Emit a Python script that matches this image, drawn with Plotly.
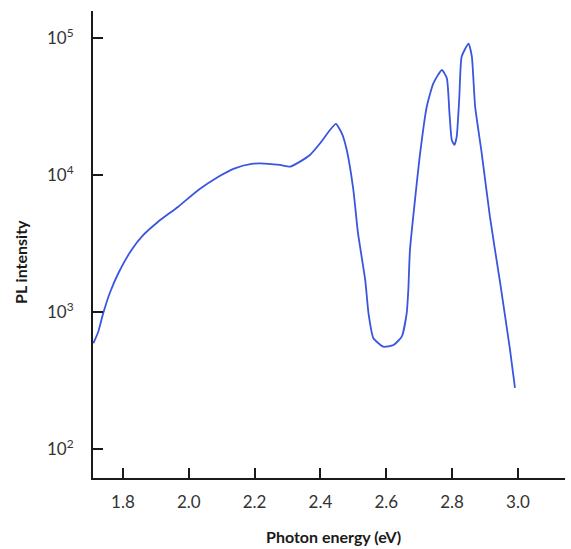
import plotly.graph_objects as go

# Photon energy (eV) and PL intensity
energy = [1.710, 1.725, 1.740, 1.760, 1.786, 1.826, 1.862, 1.907, 1.968, 2.029,
          2.090, 2.140, 2.191, 2.216, 2.277, 2.308, 2.338, 2.368, 2.399, 2.429,
          2.447, 2.465, 2.480, 2.500, 2.514, 2.536, 2.546, 2.561, 2.591, 2.622,
          2.647, 2.662, 2.667, 2.672, 2.703, 2.723, 2.743, 2.769, 2.784, 2.792,
          2.799, 2.807, 2.814, 2.822, 2.829, 2.850, 2.860, 2.870, 2.890, 2.915,
          2.946, 2.976, 2.991]
intensity = [591, 718, 978, 1376, 1917, 2836, 3648, 4561, 5870, 7773,
             9719, 11190, 12030, 12170, 11830, 11500, 12510, 13990, 17040, 21300,
             23570, 20160, 15220, 7773, 3773, 1712, 978, 643, 558, 574,
             660, 978, 1447, 2836, 14480, 31510, 46700, 58410, 50790, 28210,
             18010, 16560, 19040, 37270, 73030, 91000, 73030, 31510, 14400, 4936,
             1628, 528, 279]

x_ticks = [1.8, 2.0, 2.2, 2.4, 2.6, 2.8, 3.0]
x_ticktext = ["1.8", "2.0", "2.2", "2.4", "2.6", "2.8", "3.0"]
y_ticks = [100, 1000, 10000, 100000]
y_ticktext = ["10<sup>2</sup>", "10<sup>3</sup>", "10<sup>4</sup>", "10<sup>5</sup>"]

fig = go.Figure()
fig.add_trace(go.Scatter(x=energy, y=intensity, mode="lines",
                         line=dict(color="#3a55e0", width=1.8, shape="spline", smoothing=0.5),
                         showlegend=False))

axis_common = dict(showline=True, linecolor="#1a1a1a", linewidth=2,
                   ticks="inside", ticklen=10, tickwidth=2, tickcolor="#1a1a1a",
                   showgrid=False, zeroline=False, mirror=False, automargin=False,
                   tickfont=dict(family="Lato", size=17, color="#333333"))

fig.update_layout(
    width=571, height=549,
    margin=dict(l=93, r=6, t=11, b=71),
    paper_bgcolor="white", plot_bgcolor="white",
    xaxis=dict(range=[1.709, 3.143], tickvals=x_ticks, ticktext=x_ticktext,
               ticklabelstandoff=8, **axis_common),
    yaxis=dict(type="log", range=[1.788, 5.197], tickvals=y_ticks, ticktext=y_ticktext,
               ticklabelstandoff=14, **axis_common),
    annotations=[
        dict(text="<b>Photon energy (eV)</b>", xref="paper", yref="paper",
             x=0.509, y=-0.1263, xanchor="center", yanchor="middle", showarrow=False,
             font=dict(family="Lato", size=16, color="#1a1a1a")),
        dict(text="<b>PL intensity</b>", xref="paper", yref="paper",
             x=0, xshift=-73, y=0.4625, xanchor="center", yanchor="middle",
             textangle=-90, showarrow=False,
             font=dict(family="Lato", size=16, color="#1a1a1a")),
    ],
)

post = ("document.body.style.margin='0';document.body.style.padding='0';"
        "document.body.style.overflow='hidden';")

fig.write_html("out.html", config={"responsive": False, "displayModeBar": False},
               post_script=post)
